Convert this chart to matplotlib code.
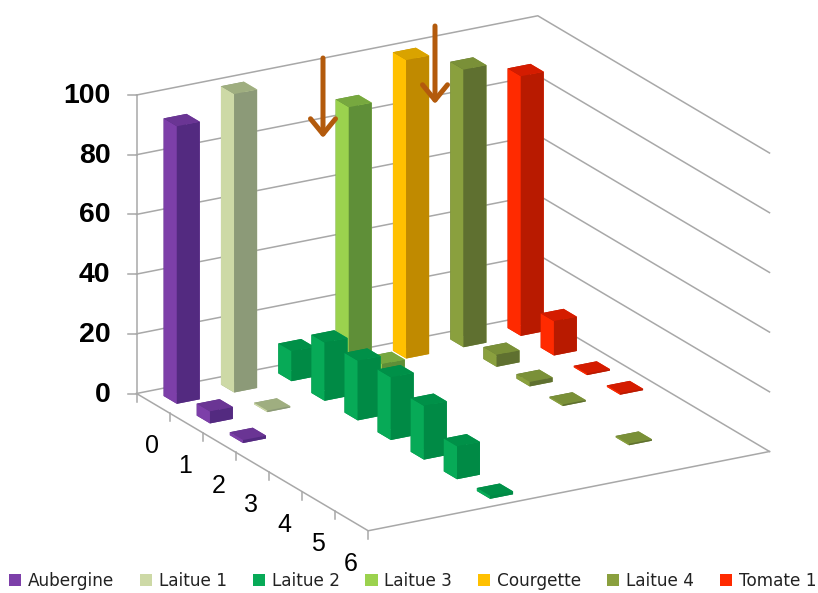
import numpy as np
from matplotlib import pyplot as plt
from matplotlib.lines import Line2D
from matplotlib.patches import FancyArrowPatch, Patch
from mpl_toolkits.mplot3d import proj3d

series = ['Aubergine', 'Laitue 1', 'Laitue 2', 'Laitue 3', 'Courgette', 'Laitue 4', 'Tomate 1']
doses = [0, 1, 2, 3, 4, 5, 6]
z_ticks = [0, 20, 40, 60, 80, 100]

aubergine = [93, 4, 1, 0, 0, 0, 0]
laitue_1 = [100, 0.5, 0, 0, 0, 0, 0]
laitue_2 = [10, 19.5, 20, 21, 18, 11, 1]
laitue_3 = [88, 8.5, 0, 0, 0, 0, 0]
courgette = [100, 0, 0, 0, 0, 0, 0]
laitue_4 = [93, 4, 1.5, 0.5, 0, 0.5, 0]
tomate_1 = [87, 11.5, 0.5, 0.5, 0, 0, 0]
values = [aubergine, laitue_1, laitue_2, laitue_3, courgette, laitue_4, tomate_1]

light = ['#7d3fa9', '#cdd9a6', '#07aa57', '#9bd24e', '#ffc000', '#8aa03e', '#ff2a00']
top = ['#6a3594', '#9fae80', '#009048', '#77a83f', '#d9a300', '#7a9038', '#d41c00']
dark = ['#532a80', '#8c9a78', '#008a45', '#5f8f38', '#c08a00', '#5f7030', '#b81a00']

W, H = 818, 593
GRID = '#a8a8a8'
fig = plt.figure(figsize=(W / 100, H / 100), dpi=100)
ax = fig.add_axes([0, 0, 1, 1], projection='3d', proj_type='ortho')
ax.computed_zorder = False
ax.view_init(elev=20, azim=-120)
ax.set_xlim(-0.5, 6.5, view_margin=0)
ax.set_ylim(6.5, -0.5, view_margin=0)
ax.set_zlim(0, 100, view_margin=0)
ax.set_axis_off()
ax.patch.set_alpha(0)

# walls and floor
x0, x1, y0, y1 = -0.5, 6.5, -0.5, 6.5
line = dict(color=GRID, lw=1.1, zorder=1, clip_on=False)
for z in z_ticks:
    ax.plot([x0, x1, x1], [y0, y0, y1], [z, z, z], **line)
ax.plot([x0, x0], [y0, y0], [0, 100], **line)
ax.plot([x0, x0, x1], [y0, y1, y1], [0, 0, 0], **line)
for k in range(8):
    ax.plot([x0, x0], [k - 0.5, k - 0.5], [0, -2.7], **line)

# painter's order: back rows first, right to left inside a row
order = 10
for d in doses:
    for s in range(len(series) - 1, -1, -1):
        v = values[s][d]
        if v > 0:
            ax.bar3d(s - 0.2, d - 0.2, 0, 0.4, 0.4, v, shade=False, linewidth=0,
                     color=[top[s], top[s], dark[s], dark[s], light[s], light[s]],
                     zorder=order)
            order += 1


# fit the projected box on the reference pixels
def proj(x, y, z):
    px, py, _ = proj3d.proj_transform(x, y, z, ax.get_proj())
    return px, py


def to_px(x, y, z):
    fig.canvas.draw()
    return ax.transData.transform(proj(x, y, z))


ratio = 316 / 461
ax.set_box_aspect((1, 1, ratio))
a = to_px(x0, y0, 0)
b = to_px(x1, y1, 0)
ax.set_box_aspect((1, 1, ratio), zoom=633 / (b[0] - a[0]))
a = to_px(x0, y0, 0)
ax.set_position([(136.5 - a[0]) / W, ((H - 393.5) - a[1]) / H, 1, 1])
fig.canvas.draw()

# tick marks and labels are placed from the projected axis positions
for z in z_ticks:
    p = ax.transData.transform(proj(x0, y0, z))
    fig.add_artist(Line2D([(p[0] - 9) / W, p[0] / W], [p[1] / H, p[1] / H], color=GRID, lw=1.1,
                          transform=fig.transFigure))
    ax.annotate(str(z), proj(x0, y0, z), xytext=(-26, -1), textcoords='offset pixels',
                ha='right', va='center', fontsize=20.5, fontweight='bold',
                family='Liberation Sans', color='black', annotation_clip=False)
for d in doses:
    ax.annotate(str(d), proj(x0, d, 0), xytext=(-1, -43), textcoords='offset pixels',
                ha='center', va='center', fontsize=18,
                family='Liberation Sans', color='black', annotation_clip=False)

# hand drawn arrows of the original
for xa, ya, yb in [(323, 58, 138), (435, 26, 104)]:
    fig.add_artist(FancyArrowPatch((xa / W, 1 - ya / H), (xa / W, 1 - yb / H),
                                   transform=fig.transFigure, arrowstyle='->,head_length=0.55,head_width=0.45',
                                   mutation_scale=20, lw=3.6, color='#b35a0c',
                                   shrinkA=0, shrinkB=0))

handles = [Patch(facecolor=c, label=n) for c, n in zip(light, series)]
fig.legend(handles=handles, ncol=7, loc='lower left', bbox_to_anchor=(9 / W, 3 / H), frameon=False,
           handlelength=0.72, handleheight=0.72, handletextpad=0.4, columnspacing=1.52,
           borderaxespad=0, borderpad=0, labelcolor='#222222', prop={'family': 'DejaVu Sans', 'size': 12.2})

fig.savefig('out.png', dpi=100)
